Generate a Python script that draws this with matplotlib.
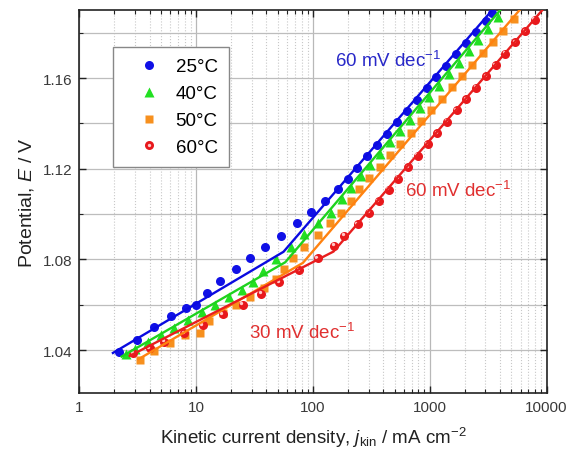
import matplotlib
matplotlib.use('Agg')
import matplotlib.pyplot as plt
import matplotlib.transforms as mtransforms
from matplotlib.ticker import LogLocator, NullFormatter, FixedFormatter, FixedLocator
from matplotlib.legend_handler import HandlerTuple

plt.rcParams['font.family'] = ['Liberation Sans', 'DejaVu Sans']
plt.rcParams['mathtext.fontset'] = 'custom'
plt.rcParams['mathtext.rm'] = 'Liberation Sans'
plt.rcParams['mathtext.it'] = 'Liberation Sans:italic'

# ---------------- data ----------------
labels = ['25°C', '40°C', '50°C', '60°C']

j25 = [2.2, 3.1, 4.4, 6.1, 8.2, 10.0, 12.4, 16, 22, 29, 39, 53, 73, 96, 127, 163, 198,
       240, 291, 354, 430, 523, 636, 774, 940, 1140, 1390, 1690, 2050, 2490, 3030, 3400]
E25 = [1.0391, 1.0445, 1.0501, 1.0552, 1.0584, 1.0601, 1.0654, 1.0705, 1.0756, 1.0806,
       1.0854, 1.0905, 1.0960, 1.1010, 1.1058, 1.1109, 1.1156, 1.1205, 1.1255, 1.1305,
       1.1355, 1.1405, 1.1455, 1.1505, 1.1555, 1.1605, 1.1655, 1.1705, 1.1755, 1.1805,
       1.1850, 1.1885]

j40 = [2.5, 3.0, 3.9, 5.0, 6.5, 8.5, 11.2, 14.6, 19.0, 24.5, 30.5, 37.2, 48.3, 64.9,
       83.8, 109.7, 142.5, 176, 211, 256, 311, 377, 458, 555, 674, 818, 992, 1204, 1461,
       1773, 2151, 2611, 3168, 3845]
E40 = [1.0382, 1.0405, 1.0437, 1.0468, 1.0500, 1.0534, 1.0568, 1.0601, 1.0633, 1.0665,
       1.0700, 1.0749, 1.0803, 1.0855, 1.0912, 1.0959, 1.1007, 1.1066, 1.1117, 1.1167,
       1.1217, 1.1267, 1.1317, 1.1367, 1.1417, 1.1467, 1.1517, 1.1567, 1.1617, 1.1667,
       1.1717, 1.1767, 1.1817, 1.1867]

j50 = [3.28, 4.4, 6.0, 8.0, 10.7, 13.0, 17.0, 22.0, 29.0, 38.0, 48.0, 56.0, 67, 84, 110,
       141, 173, 211, 249, 305, 374, 458, 561, 687, 841, 1030, 1262, 1548, 1897, 2323,
       2846, 3487, 4275, 5240]
E50 = [1.0357, 1.0395, 1.0432, 1.0466, 1.0474, 1.0528, 1.0562, 1.0598, 1.0636, 1.0675,
       1.0716, 1.0759, 1.0807, 1.0854, 1.0909, 1.0959, 1.1007, 1.1058, 1.1109, 1.1159,
       1.1209, 1.1259, 1.1309, 1.1359, 1.1409, 1.1459, 1.1509, 1.1559, 1.1609, 1.1659,
       1.1709, 1.1759, 1.1809, 1.1859]

j60 = [2.88, 3.99, 5.36, 7.95, 11.4, 16.9, 25.1, 35.9, 51.5, 76.4, 110, 152, 185, 241,
       303, 367, 445, 539, 653, 791, 958, 1161, 1406, 1704, 2064, 2500, 3030, 3671, 4447,
       5388, 6528, 7909]
E60 = [1.0387, 1.0409, 1.0438, 1.0474, 1.0511, 1.0558, 1.0601, 1.0650, 1.0701, 1.0752,
       1.0806, 1.0861, 1.0905, 1.0956, 1.1007, 1.1057, 1.1107, 1.1157, 1.1207, 1.1257,
       1.1307, 1.1357, 1.1407, 1.1457, 1.1507, 1.1557, 1.1607, 1.1657, 1.1707, 1.1757,
       1.1807, 1.1857]

# Tafel fit lines (start, break, end)
fit25_j = [1.94, 56, 3500]
fit25_E = [1.0388, 1.0834, 1.1905]
fit40_j = [2.3, 58, 4100]
fit40_E = [1.0372, 1.0788, 1.1905]
fit50_j = [3.2, 82, 6000]
fit50_E = [1.0360, 1.0785, 1.1905]
fit60_j = [2.7, 150, 9400]
fit60_E = [1.0375, 1.0835, 1.1905]

xticks = [1, 10, 100, 1000, 10000]
xticklabels = ['1', '10', '100', '1000', '10000']
yticks = [1.04, 1.08, 1.12, 1.16]
yticklabels = ['1.04', '1.08', '1.12', '1.16']

# ---------------- figure ----------------
fig = plt.figure(figsize=(5.69, 4.52), dpi=100)
ax = fig.add_axes([0.1394, 0.1276, 0.8211, 0.8481])

c_blue, c_green, c_orange, c_red = '#1010e6', '#22e022', '#f7901e', '#e8181c'
l_blue, l_green, l_orange, l_red = '#0a0ae0', '#1ed21e', '#ff8210', '#e81e1e'

h25, = ax.plot(j25, E25, 'o', ms=6.5, color=c_blue, mec='none', zorder=3)
h40, = ax.plot(j40, E40, '^', ms=7.5, color=c_green, mec='none', zorder=3)
h50, = ax.plot(j50, E50, 's', ms=5.8, color=c_orange, mec='none', zorder=3)
h60, = ax.plot(j60, E60, 'o', ms=6.5, color=c_red, mec='none', zorder=3)
off = mtransforms.ScaledTranslation(-1.0 / 72, 1.0 / 72, fig.dpi_scale_trans)
h60b, = ax.plot(j60, E60, 'o', ms=2.4, color='#ffc8c8', mec='none', zorder=3.1,
                transform=ax.transData + off)

ax.plot(fit25_j, fit25_E, '-', color=l_blue, lw=1.7, zorder=4)
ax.plot(fit40_j, fit40_E, '-', color=l_green, lw=1.7, zorder=4)
ax.plot(fit50_j, fit50_E, '-', color=l_orange, lw=1.7, zorder=4)
ax.plot(fit60_j, fit60_E, '-', color=l_red, lw=1.7, zorder=4)

ax.set_xscale('log')
ax.set_xlim(1, 10000)
ax.set_ylim(1.021, 1.19)

ax.xaxis.set_major_locator(FixedLocator(xticks))
ax.xaxis.set_major_formatter(FixedFormatter(xticklabels))
ax.xaxis.set_minor_locator(LogLocator(base=10, subs=range(2, 10), numticks=20))
ax.xaxis.set_minor_formatter(NullFormatter())
ax.yaxis.set_major_locator(FixedLocator(yticks))
ax.yaxis.set_major_formatter(FixedFormatter(yticklabels))
ax.yaxis.set_minor_locator(FixedLocator([1.06, 1.10, 1.14, 1.18]))

ax.tick_params(which='both', direction='in', top=True, right=True, colors='#222222',
               labelcolor='#3a3a3a')
ax.tick_params(which='major', length=5, width=1.0, labelsize=11, pad=5)
ax.tick_params(which='minor', length=3, width=0.8)

ax.grid(which='major', axis='x', color='#b8b8b8', lw=0.9, ls='-')
ax.grid(which='minor', axis='x', color='#c8c8c8', lw=0.8, ls=':')
ax.grid(which='both', axis='y', color='#bdbdbd', lw=0.9, ls='-')
ax.set_axisbelow(True)

for s in ax.spines.values():
    s.set_linewidth(1.2)
    s.set_color('#222222')

ax.set_xlabel('Kinetic current density, $j_{\\rm kin}$ / mA cm$^{-2}$', fontsize=13.5,
              color='#222222', labelpad=8)
ax.set_ylabel('Potential, $E$ / V', fontsize=14, color='#222222', labelpad=5)

ax.text(155, 1.1654, '60 mV dec$^{-1}$', color='#2828c8', fontsize=13.5, va='baseline')
ax.text(618, 1.1081, '60 mV dec$^{-1}$', color='#e03030', fontsize=13.5, va='baseline')
ax.text(28.1, 1.0456, '30 mV dec$^{-1}$', color='#e03030', fontsize=13.5, va='baseline')

leg = ax.legend([h25, h40, h50, (h60, h60b)], labels, loc='upper left',
                bbox_to_anchor=(0.072, 0.9035), borderaxespad=0, fontsize=13.5,
                frameon=True, fancybox=False, edgecolor='#888888', framealpha=1,
                borderpad=0.6, labelspacing=0.52, handletextpad=0.1, handlelength=2.64,
                handler_map={tuple: HandlerTuple(ndivide=1, pad=0)})
leg.get_frame().set_linewidth(1.0)

fig.savefig('out.png', dpi=100)
